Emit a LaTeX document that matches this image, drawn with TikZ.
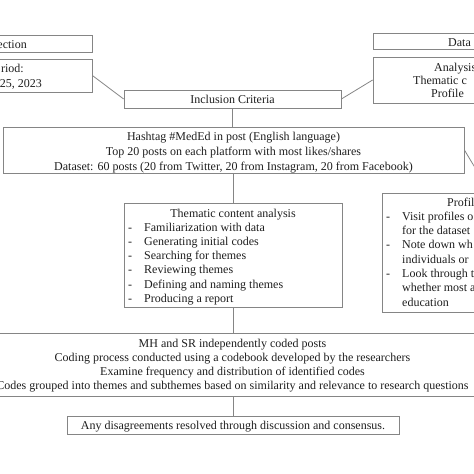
\documentclass[tikz,border=0pt]{standalone}
\usepackage{fontspec}
\setmainfont{Liberation Serif}
\begin{document}
\begin{tikzpicture}[x=1pt,y=-1pt,
  box/.style={draw=boxgray, line width=0.8pt, inner sep=0pt, minimum width=#1},
  txt/.style={inner sep=0pt, text=txtcol, font=\fontsize{12}{14.3}\selectfont},
  ctxt/.style={txt, align=center},
  link/.style={draw=boxgray, line width=0.8pt}]
\definecolor{boxgray}{HTML}{858585}
\definecolor{txtcol}{HTML}{1E1E1E}
\useasboundingbox (0,0) rectangle (474,474);
% boxes
\node[box=200pt, minimum height=17pt] (lb1) at (-8,43.5) {};
\node[box=200pt, minimum height=33pt] (lb2) at (-8,75.5) {};
\node[box=217pt, minimum height=18pt] (incl) at (232.5,99) {};
\node[box=200pt, minimum height=16pt] (rb1) at (473,41) {};
\node[box=200pt, minimum height=46pt] (rb2) at (473,80) {};
\node[box=461pt, minimum height=46pt] (hash) at (233.5,150) {};
\node[box=218pt, minimum height=104pt] (them) at (233,255) {};
\node[box=216pt, minimum height=119pt] (prof) at (490,252.5) {};
\node[box=506pt, minimum height=63pt] (big) at (233,364.5) {};
\node[box=332pt, minimum height=18pt] (dis) at (233,425) {};
% connectors
\draw[link] (lb2.east) -- (incl.west);
\draw[link] (incl.east) -- (rb2.west);
\draw[link] (incl.south) -- (incl.south |- hash.north);
\draw[link] (hash.south) -- (hash.south |- them.north);
\draw[link] (hash.east) -- (prof.north);
\draw[link] (them.south) -- (them.south |- big.north);
\draw[link] (big.south) -- (big.south |- dis.north);
% left fragments
\node[txt, anchor=base east] (l1) at (27,48) {ection};
\node[txt, anchor=base east] (l2) at (24,72) {riod:};
\node[txt, anchor=base east] (l3) at (42,87) {25, 2023};
% right fragments
\node[txt, anchor=base west] (r1) at (448,46) {Data};
\node[txt, anchor=base west] (r2) at (434,71) {Analysis};
\node[txt, anchor=base west] (r3) at (413,84) {Thematic c};
\node[txt, anchor=base west] (r4) at (431,97) {Profile};
% inclusion
\node[txt, anchor=base] (it) at (232.5,103) {Inclusion Criteria};
% hashtag
\node[txt, anchor=base] (h1) at (233.5,140.5) {Hashtag \#MedEd in post (English language)};
\node[txt, anchor=base] (h2) at (233.5,155.5) {Top 20 posts on each platform with most likes/shares};
\node[txt, anchor=base] (h3) at (233.5,170) {Dataset: 60 posts (20 from Twitter, 20 from Instagram, 20 from Facebook)};
% thematic
\node[txt, anchor=base] (t0) at (233,217) {Thematic content analysis};
\foreach \s [count=\i] in {Familiarization with data, Generating initial codes, Searching for themes, Reviewing themes, Defining and naming themes, Producing a report}{
  \node[txt, anchor=base west] (td\i) at (128,217+14.2*\i) {-};
  \node[txt, anchor=base west] (ti\i) at (144,217+14.2*\i) {\s};
}
% profile
\node[txt, anchor=base west] (p0) at (447,206) {Profil};
\node[txt, anchor=base west] (pd1) at (386,220.3) {-};
\node[txt, anchor=base west] (p1) at (402,220.3) {Visit profiles o};
\node[txt, anchor=base west] (p2) at (402,234.6) {for the dataset};
\node[txt, anchor=base west] (pd3) at (386,248.9) {-};
\node[txt, anchor=base west] (p3) at (402,248.9) {Note down wh};
\node[txt, anchor=base west] (p4) at (402,263.2) {individuals or};
\node[txt, anchor=base west] (pd5) at (386,277.5) {-};
\node[txt, anchor=base west] (p5) at (402,277.5) {Look through t};
\node[txt, anchor=base west] (p6) at (402,291.8) {whether most a};
\node[txt, anchor=base west] (p7) at (402,306.1) {education};
% big box
\node[txt, anchor=base] (b1) at (232.5,347) {MH and SR independently coded posts};
\node[txt, anchor=base] (b2) at (232.5,361.3) {Coding process conducted using a codebook developed by the researchers};
\node[txt, anchor=base] (b3) at (232.5,375.6) {Examine frequency and distribution of identified codes};
\node[txt, anchor=base] (b4) at (232.5,389.9) {Codes grouped into themes and subthemes based on similarity and relevance to research questions};
% disagreements
\node[txt, anchor=base] (d1) at (233,429) {Any disagreements resolved through discussion and consensus.};
\end{tikzpicture}
\end{document}
